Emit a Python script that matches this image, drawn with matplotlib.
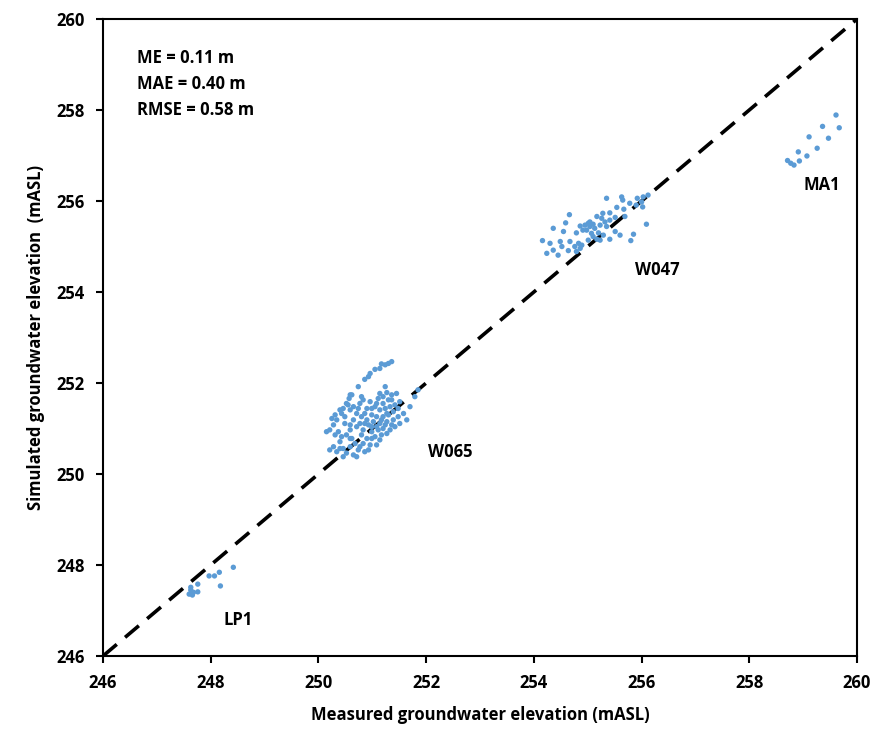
import numpy as np
import matplotlib
matplotlib.use("Agg")
from matplotlib import pyplot as plt

plt.rcParams['font.family'] = ['Open Sans', 'DejaVu Sans']
plt.rcParams['font.weight'] = 'bold'

# measured (x) / simulated (y) groundwater elevations, mASL
lp1_x = [248.42, 248.16, 248.07, 247.97, 248.18, 247.76, 247.76, 247.63, 247.60, 247.66, 247.63, 247.68]
lp1_y = [247.95, 247.84, 247.76, 247.76, 247.54, 247.58, 247.41, 247.45, 247.36, 247.34, 247.51, 247.40]

ma1_x = [259.61, 259.67, 259.36, 259.47, 259.11, 259.26, 258.91, 259.07, 258.93, 258.71, 258.77, 258.83]
ma1_y = [257.89, 257.61, 257.64, 257.38, 257.41, 257.16, 257.08, 256.99, 256.88, 256.89, 256.83, 256.79]

w047_x = [255.35, 255.63, 255.65, 255.92, 256.03, 256.12, 256.00, 255.78, 255.90, 256.02,
          255.54, 255.67, 255.41, 255.28, 254.66, 255.17, 255.26, 255.41, 255.51, 255.69,
          255.04, 254.86, 254.95, 255.10, 255.23, 255.35, 254.59, 254.36, 256.09, 254.55,
          254.79, 254.98, 255.07, 255.20, 255.29, 255.51, 255.85, 254.16, 254.30, 254.49,
          254.67, 254.83, 255.01, 255.17, 255.41, 255.80, 254.24, 254.45, 254.36, 254.64,
          254.86, 254.76, 254.89, 254.79, 254.52, 255.23, 255.10, 255.04, 255.13, 255.32,
          255.01, 254.91, 255.60]
w047_y = [256.06, 256.09, 256.02, 256.06, 256.09, 256.13, 255.98, 255.95, 255.91, 255.87,
          255.86, 255.82, 255.74, 255.73, 255.70, 255.66, 255.62, 255.58, 255.64, 255.66,
          255.54, 255.45, 255.47, 255.49, 255.47, 255.44, 255.52, 255.40, 255.49, 255.33,
          255.30, 255.36, 255.29, 255.30, 255.25, 255.33, 255.27, 255.13, 255.07, 255.11,
          255.11, 255.07, 255.14, 255.16, 255.16, 255.13, 254.85, 254.81, 254.92, 254.91,
          254.96, 255.00, 255.03, 254.89, 255.00, 255.14, 255.22, 255.44, 255.40, 255.54,
          255.51, 255.36, 255.25]

w065_x = [251.36, 251.30, 251.24, 251.17, 251.14, 251.05, 250.96, 250.93, 250.86, 250.74,
          250.59, 250.62, 250.57, 250.52, 250.46, 250.40, 250.43, 250.31, 250.25, 250.28,
          250.21, 250.37, 250.31, 250.43, 250.52, 250.59, 250.62, 250.40, 250.28, 250.21,
          250.34, 250.46, 250.59, 250.68, 250.52, 250.65, 250.46, 250.74, 250.55, 250.65,
          250.59, 250.49, 250.65, 250.80, 250.77, 250.71, 250.83, 250.80, 250.90, 250.83,
          250.77, 250.96, 250.93, 251.08, 250.59, 250.80, 250.77, 250.83, 250.90, 250.96,
          251.05, 251.11, 251.20, 251.27, 251.36, 251.45, 251.30, 251.20, 251.14, 251.24,
          251.33, 251.42, 251.51, 251.39, 251.30, 251.20, 251.08, 250.99, 251.02, 251.14,
          251.27, 251.39, 251.48, 251.58, 251.51, 251.42, 251.33, 251.20, 251.11, 250.99,
          251.05, 251.17, 251.27, 251.64, 251.70, 251.79, 251.85, 250.93, 250.90, 251.08,
          251.24, 250.99, 251.14, 250.86, 250.71, 250.40, 251.14, 251.24, 251.08, 250.99,
          251.36, 251.48, 250.74, 250.71, 250.86, 251.27, 251.17, 251.36, 250.34, 250.49,
          250.59, 250.15, 250.86, 250.99]
w065_y = [252.47, 252.43, 252.40, 252.42, 252.32, 252.30, 252.21, 252.14, 252.08, 251.92,
          251.74, 251.74, 251.66, 251.55, 251.44, 251.41, 251.33, 251.30, 251.22, 251.08,
          250.97, 250.93, 250.86, 250.82, 250.86, 250.97, 250.78, 250.71, 250.60, 250.53,
          250.49, 250.56, 250.60, 250.67, 250.46, 250.42, 250.38, 250.53, 251.52, 251.48,
          251.41, 251.26, 251.19, 251.26, 251.11, 251.04, 250.97, 250.86, 250.78, 250.67,
          250.60, 250.64, 250.53, 250.64, 250.78, 251.70, 251.55, 251.63, 251.44, 251.59,
          251.48, 251.66, 251.70, 251.79, 251.74, 251.77, 251.63, 251.55, 251.41, 251.44,
          251.48, 251.52, 251.59, 251.37, 251.30, 251.26, 251.26, 251.30, 251.15, 251.11,
          251.15, 251.19, 251.26, 251.33, 251.11, 251.04, 250.97, 251.00, 250.97, 250.93,
          250.82, 250.86, 250.89, 251.19, 251.48, 251.70, 251.85, 251.08, 251.19, 251.04,
          251.08, 250.78, 250.75, 250.49, 250.38, 250.56, 251.77, 251.92, 251.55, 251.44,
          251.63, 251.44, 251.44, 251.33, 251.33, 251.33, 251.19, 251.08, 251.19, 251.11,
          251.08, 250.93, 251.11, 251.04]

meas = np.concatenate([lp1_x, w065_x, w047_x, ma1_x])
sim = np.concatenate([lp1_y, w065_y, w047_y, ma1_y])

fig = plt.figure(figsize=(8.78, 7.40), dpi=100)
ax = fig.add_axes([0.1173, 0.1135, 0.8588, 0.8608])

ax.plot([246, 260], [246, 260], color='black', lw=2.6, ls=(0, (5, 3)), zorder=1)
ax.scatter(meas, sim, s=15, color='#5B9BD5', edgecolors='none', zorder=2)

ax.set_xlim(246, 260)
ax.set_ylim(246, 260)
ax.set_xticks(np.arange(246, 261, 2))
ax.set_yticks(np.arange(246, 261, 2))
for sp in ax.spines.values():
    sp.set_linewidth(1.5)
ax.tick_params(direction='out', length=5, width=1.5, labelsize=12, pad=8)
for lab in ax.get_xticklabels() + ax.get_yticklabels():
    lab.set_fontweight('bold')

ax.set_xlabel('Measured groundwater elevation (mASL)', fontsize=12, fontweight='bold', labelpad=10)
ax.set_ylabel('Simulated groundwater elevation  (mASL)', fontsize=12, fontweight='bold', labelpad=8)

# statistics box text
ax.text(246.63, 259.14, 'ME = 0.11 m', fontsize=12, fontweight='bold', va='center')
ax.text(246.63, 258.57, 'MAE = 0.40 m', fontsize=12, fontweight='bold', va='center')
ax.text(246.63, 258.00, 'RMSE = 0.58 m', fontsize=12, fontweight='bold', va='center')

ax.text(259.35, 256.35, 'MA1', fontsize=12, fontweight='bold', ha='center', va='center')
ax.text(256.30, 254.48, 'W047', fontsize=12, fontweight='bold', ha='center', va='center')
ax.text(252.44, 250.48, 'W065', fontsize=12, fontweight='bold', ha='center', va='center')
ax.text(248.50, 246.80, 'LP1', fontsize=12, fontweight='bold', ha='center', va='center')

fig.savefig('out.png', dpi=100)
